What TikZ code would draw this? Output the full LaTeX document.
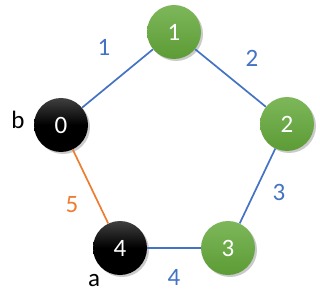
\documentclass[tikz,border=0pt]{standalone}
\usepackage{fontspec}
\setmainfont{Carlito}
\usetikzlibrary{shadows}
\definecolor{gtop}{HTML}{7DB75A}
\definecolor{gbot}{HTML}{5C9B35}
\definecolor{eblue}{HTML}{4472C4}
\definecolor{eorange}{HTML}{ED7D31}
\tikzset{
  vert/.style={circle, minimum size=54pt, inner sep=0pt, font=\fontsize{25}{27}\selectfont,
    text=white, drop shadow={shadow xshift=2pt, shadow yshift=-2pt, opacity=0.35, fill=black!60}},
  gvert/.style={vert, top color=gtop, bottom color=gbot},
  bvert/.style={vert, top color=black!75, bottom color=black, middle color=black},
  bedge/.style={draw=eblue, line width=1.7pt},
  oedge/.style={draw=eorange, line width=1.7pt},
  blab/.style={text=eblue, font=\fontsize{25}{27}\selectfont, inner sep=0pt},
  olab/.style={text=eorange, font=\fontsize{25}{27}\selectfont, inner sep=0pt},
  klab/.style={text=black, font=\fontsize{25}{27}\selectfont, inner sep=0pt}
}
\begin{document}
\begin{tikzpicture}[x=1pt,y=-1pt]
\useasboundingbox (0,0) rectangle (320,307);
\coordinate (c1) at (174,32);
\coordinate (c2) at (287,124);
\coordinate (c3) at (228,248);
\coordinate (c4) at (120,248);
\coordinate (c0) at (61,125);
\node[gvert] (n1) at (c1) {1};
\node[gvert] (n2) at (c2) {2};
\node[gvert] (n3) at (c3) {3};
\node[bvert] (n4) at (c4) {4};
\node[bvert] (n0) at (c0) {0};
\path[bedge] (n0) -- (n1);
\path[bedge] (n1) -- (n2);
\path[bedge] (n2) -- (n3);
\path[bedge] (n3) -- (n4);
\path[oedge] (n0) -- (n4);
\node[blab] (l1) at (104,47) {1};
\node[blab] (l2) at (252,58) {2};
\node[blab] (l3) at (279,192) {3};
\node[blab] (l4) at (174,277) {4};
\node[olab] (l5) at (72,205) {5};
\node[klab] (b) at (18,120) {b};
\node[klab] (a) at (94,281) {a};
\end{tikzpicture}
\end{document}
